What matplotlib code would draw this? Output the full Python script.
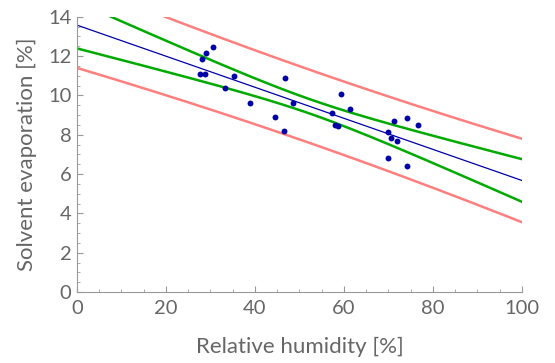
import numpy as np
import matplotlib
matplotlib.use("Agg")
import matplotlib.pyplot as plt
from matplotlib.ticker import MultipleLocator

humidity = [30.6, 29.0, 28.0, 27.6, 28.7, 35.3, 33.3, 38.9, 46.8, 44.5,
            46.5, 48.5, 57.4, 59.4, 61.4, 58.0, 58.7, 70.0, 70.6, 71.9,
            71.3, 74.2, 76.6, 70.0, 74.2]
evaporation = [12.47, 12.17, 11.86, 11.11, 11.11, 10.98, 10.37, 9.62, 10.90, 8.88,
               8.20, 9.62, 9.10, 10.08, 9.33, 8.50, 8.42, 8.13, 7.84, 7.69,
               8.72, 8.87, 8.50, 6.79, 6.42]

T_95 = 2.069  # t quantile, df = 23

x = np.array(humidity)
y = np.array(evaporation)
n = len(x)
slope, intercept = np.polyfit(x, y, 1)
resid = y - (intercept + slope * x)
s = np.sqrt(np.sum(resid ** 2) / (n - 2))
xbar = x.mean()
sxx = np.sum((x - xbar) ** 2)

xs = np.linspace(0, 100, 300)
fit = intercept + slope * xs
conf = T_95 * s * np.sqrt(1 / n + (xs - xbar) ** 2 / sxx)
pred = T_95 * s * np.sqrt(1 + 1 / n + (xs - xbar) ** 2 / sxx)

plt.rcParams["font.family"] = ["Lato", "DejaVu Sans"]
fig = plt.figure(figsize=(5.55, 3.63), dpi=100)
ax = fig.add_axes([0.1387, 0.1956, 0.8018, 0.7584])

pink = "#ff7f7f"
green = "#00aa00"
blue = "#0000a8"
ax.plot(xs, fit + pred, color=pink, lw=1.8)
ax.plot(xs, fit - pred, color=pink, lw=1.8)
ax.plot(xs, fit + conf, color=green, lw=1.8)
ax.plot(xs, fit - conf, color=green, lw=1.8)
ax.plot(xs, fit, color=blue, lw=0.9)
ax.scatter(x, y, s=18, color=blue, zorder=5, linewidths=0)

ax.set_xlim(0, 100)
ax.set_ylim(0, 14)
ax.xaxis.set_major_locator(MultipleLocator(20))
ax.xaxis.set_minor_locator(MultipleLocator(5))
ax.yaxis.set_major_locator(MultipleLocator(2))
ax.yaxis.set_minor_locator(MultipleLocator(0.5))

grey = "#999999"
txt = "#666666"
for side in ("top", "right"):
    ax.spines[side].set_visible(False)
for side in ("left", "bottom"):
    ax.spines[side].set_color(grey)
ax.tick_params(which="both", direction="in", color=grey, labelcolor=txt, labelsize=14.5)
ax.tick_params(which="major", length=4.5)
ax.tick_params(which="minor", length=2.5)
ax.tick_params(axis="x", which="major", pad=6)
ax.tick_params(axis="y", which="major", pad=4)

ax.set_xlabel("Relative humidity [%]", color=txt, fontsize=16, labelpad=14)
ax.set_ylabel("Solvent evaporation [%]", color=txt, fontsize=16, labelpad=8)

fig.savefig("out.png", dpi=100, facecolor="white")
